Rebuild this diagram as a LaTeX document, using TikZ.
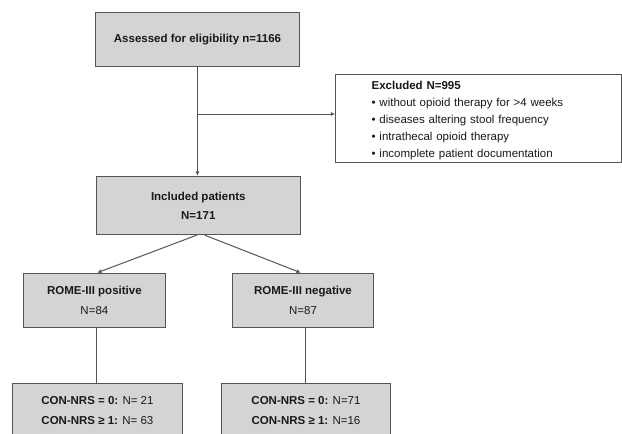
\documentclass[tikz,border=0pt]{standalone}
\usepackage{fontspec}
\setmainfont{Liberation Sans}
\usetikzlibrary{arrows.meta}
\definecolor{boxfill}{RGB}{212,212,212}
\definecolor{edge}{RGB}{85,85,85}
\definecolor{ink}{RGB}{25,25,25}
\begin{document}
\begin{tikzpicture}[x=1pt,y=-1pt,
  box/.style={draw=edge, line width=1pt, fill=boxfill, inner sep=0pt, align=center, text=ink, font=\fontsize{11.5}{20}\selectfont},
  conn/.style={draw=edge, line width=1pt},
  arr/.style={conn, -{Latex[length=4.5pt,width=4pt]}}]
\clip (0,0) rectangle (622,434);
\fill[white] (0,0) rectangle (622,434);

\node[box, minimum width=204.3pt, minimum height=53.3pt] (assess) at (197.5,39.4) {\textbf{Assessed for eligibility n=1166}};

\node[box, fill=white, minimum width=285.4pt, minimum height=87.7pt, text width=213.8pt, inner xsep=35.8pt, align=left, font=\fontsize{11.5}{17.1}\selectfont] (excl) at (478.5,118.2)
 {\rule{0pt}{13pt}\textbf{Excluded N=995}\\
  • without opioid therapy for >4 weeks\\
  • diseases altering stool frequency\\
  • intrathecal opioid therapy\\
  • incomplete patient documentation};

\node[box, minimum width=204.3pt, minimum height=58.3pt, font=\fontsize{11.5}{19.3}\selectfont] (inc) at (198.3,205.5) {\textbf{Included patients}\\\textbf{N=171}};

\node[box, minimum width=141.2pt, minimum height=54.4pt] (pos) at (94.4,300.5) {\textbf{ROME-III positive}\\N=84};
\node[box, minimum width=141.2pt, minimum height=54.4pt] (neg) at (303,300.5) {\textbf{ROME-III negative}\\N=87};

\node[box, minimum width=169.3pt, minimum height=55.4pt] (conpos) at (97.4,411) {\textbf{CON-NRS = 0:} N= 21\\\textbf{CON-NRS ≥ 1:} N= 63};
\node[box, minimum width=169.3pt, minimum height=55.4pt] (conneg) at (306,411) {\textbf{CON-NRS = 0:} N=71\\\textbf{CON-NRS ≥ 1:} N=16};

\draw[arr] (assess.south) -- (assess.south |- inc.north);
\coordinate (br) at (assess.south |- 0,114);
\draw[arr] (br) -- (br -| excl.west);
\draw[arr] ([xshift=-1.6pt]inc.south) -- ([xshift=2.6pt]pos.north);
\draw[arr] ([xshift=6.4pt]inc.south) -- ([xshift=-2.1pt]neg.north);
\draw[conn] ([xshift=1.8pt]pos.south) -- ([xshift=1.8pt]pos.south |- conpos.north);
\draw[conn] ([xshift=2.6pt]neg.south) -- ([xshift=2.6pt]neg.south |- conneg.north);
\end{tikzpicture}
\end{document}
